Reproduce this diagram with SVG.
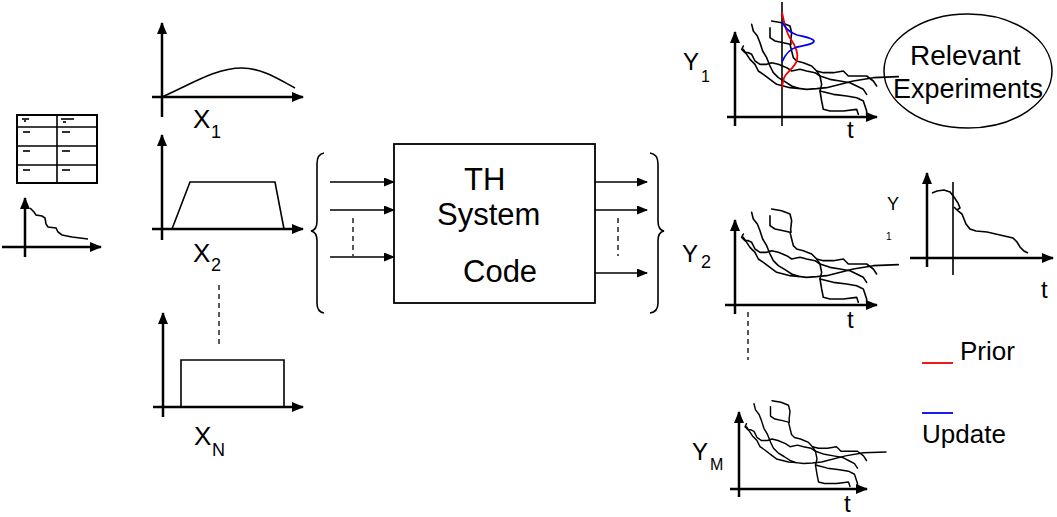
<svg xmlns="http://www.w3.org/2000/svg" xmlns:xlink="http://www.w3.org/1999/xlink" width="1057" height="517" viewBox="0 0 1057 517">
<style>
text{font-family:"Liberation Sans",Arial,sans-serif;fill:#000}
.ax{stroke:#000;stroke-width:2.5;fill:none}
.ln{stroke:#000;stroke-width:1.6;fill:none}
.cv{stroke:#000;stroke-width:4.8;fill:none;stroke-linejoin:round;stroke-linecap:round}
.dash{stroke:#000;stroke-width:1.3;stroke-dasharray:5,4;fill:none}
.big{font-size:31px}
.lab{font-size:26px}
.sub{font-size:18px}
.tt{font-size:24px}
.smudge{fill:#333}
</style>
<defs>
<marker id="ah" markerUnits="userSpaceOnUse" markerWidth="11" markerHeight="9" refX="10" refY="4.5" orient="auto"><path d="M0,0 L11,4.5 L0,9 z" fill="#000"/></marker>
<marker id="aa" markerUnits="userSpaceOnUse" markerWidth="12" markerHeight="10" refX="11" refY="5" orient="auto"><path d="M0,0 L12,5 L0,10 z" fill="#000"/></marker>
<g id="bundle">
<g transform="scale(0.3333)">
<path class="cv" d="M50,-278 L55,-258 L67,-243 L75,-223 L83,-198 L95,-178 L105,-153 L115,-133 L130,-118 L150,-106 L170,-93 L190,-86"/>
<path class="cv" d="M25,-203 L35,-188 L45,-173 L60,-158 L70,-138 L85,-128 L105,-113 L125,-98 L145,-93 L165,-88 L190,-86 L215,-83 L245,-85 L275,-88 L355,-108 L415,-118 L490,-121"/>
<path class="cv" d="M110,-288 L140,-283 L165,-273 L170,-253 L167,-228 L168,-218"/>
<path class="cv" d="M105,-268 L105,-238 L120,-228 L145,-223 L165,-218 L170,-198 L175,-178 L185,-168 L205,-163 L230,-153 L245,-138 L265,-133 L295,-133 L325,-138 L340,-123 L365,-123 L395,-123 L415,-108 L425,-93"/>
<path class="cv" d="M245,-138 L255,-123 L260,-98 L255,-78 L260,-48 L265,-23 L285,-18 L325,-18 L365,-23 L370,-8"/>
<path class="cv" d="M25,-213 L20,-203 L30,-193 L40,-193 L50,-188 L60,-168 L75,-158 L95,-158 L110,-163 L130,-158 L155,-148 L170,-138 L195,-143 L215,-138 L240,-133 L255,-123 L285,-113 L315,-108 L345,-103 L365,-93 L385,-83 L395,-68"/>
<path class="cv" d="M255,-78 L295,-68 L335,-63 L365,-58 L385,-48 L395,-18 L395,-6"/>
</g>
</g>
</defs>

<g id="input-table">
<rect x="17" y="115" width="80" height="68" fill="#fff" stroke="#000" stroke-width="2"/>
<line class="ln" x1="57" y1="115" x2="57" y2="183" stroke-width="2"/>
<line class="ln" x1="17" y1="127" x2="97" y2="127"/>
<line class="ln" x1="17" y1="146" x2="97" y2="146"/>
<line class="ln" x1="17" y1="165" x2="97" y2="165"/>
<rect class="smudge" x="22" y="118" width="7" height="2"/><rect class="smudge" x="24" y="120" width="2" height="2"/>
<rect class="smudge" x="61" y="118" width="13" height="2"/><rect class="smudge" x="63" y="121" width="3" height="2"/>
<rect class="smudge" x="23" y="131" width="7" height="2"/><rect class="smudge" x="62" y="131" width="8" height="2"/>
<rect class="smudge" x="23" y="150" width="7" height="2"/><rect class="smudge" x="62" y="150" width="8" height="2"/>
<rect class="smudge" x="23" y="169" width="7" height="2"/><rect class="smudge" x="62" y="169" width="8" height="2"/>
</g>

<g id="input-curve">
<line class="ax" x1="2" y1="247" x2="101" y2="247" marker-end="url(#aa)"/>
<line class="ax" x1="25" y1="257" x2="25" y2="198" marker-end="url(#aa)"/>
<path class="ln" d="M30,208 L34,212 L36,215 L42,216 L45,218 L46,224 L48,227 L56,228 L58,232 L62,235 L72,237 L80,238 L88,239"/>
</g>

<g id="x1">
<line class="ax" x1="152" y1="97" x2="303" y2="97" marker-end="url(#aa)"/>
<line class="ax" x1="162" y1="117" x2="162" y2="23" marker-end="url(#aa)"/>
<path class="ln" d="M162,97 C190,85 215,68 242,68 C262,68 280,80 295,88"/>
<text class="lab" x="193" y="128">X</text><text class="sub" x="211" y="138">1</text>
</g>

<g id="x2">
<line class="ax" x1="152" y1="229" x2="303" y2="229" marker-end="url(#aa)"/>
<line class="ax" x1="162" y1="240" x2="162" y2="135" marker-end="url(#aa)"/>
<path class="ln" d="M172,229 L190,182 L275,182 L284,229"/>
<text class="lab" x="193" y="262">X</text><text class="sub" x="211" y="271">2</text>
</g>

<g id="xn">
<line class="dash" x1="219" y1="285" x2="219" y2="347"/>
<line class="ax" x1="153" y1="407" x2="303" y2="407" marker-end="url(#aa)"/>
<line class="ax" x1="163" y1="417" x2="163" y2="313" marker-end="url(#aa)"/>
<path class="ln" d="M181,407 L181,360 L284,360 L284,407"/>
<text class="lab" x="194" y="445">X</text><text class="sub" x="212" y="456">N</text>
</g>

<g id="th-code">
<rect x="394" y="144" width="201" height="159" fill="#fff" stroke="#000" stroke-width="1.8"/>
<text class="big" x="464" y="190">TH</text>
<text class="big" x="437" y="225">System</text>
<text class="big" x="463" y="282">Code</text>
</g>

<g id="connectors">
<path class="ln" d="M324,153 Q317,154 317,164 L317,221 Q317,230 311,231 Q317,232 317,241 L317,303 Q317,312 324,313" stroke-width="1.3"/>
<path class="ln" d="M650,153 Q658,154 658,164 L658,221 Q658,230 664,231 Q658,232 658,241 L658,303 Q658,312 650,313" stroke-width="1.3"/>
<line class="ln" x1="330" y1="182" x2="394" y2="182" marker-end="url(#ah)"/>
<line class="ln" x1="330" y1="210" x2="394" y2="210" marker-end="url(#ah)"/>
<line class="ln" x1="330" y1="257" x2="394" y2="257" marker-end="url(#ah)"/>
<line class="dash" x1="353" y1="218" x2="353" y2="256"/>
<line class="ln" x1="595" y1="182" x2="647" y2="182" marker-end="url(#ah)"/>
<line class="ln" x1="595" y1="210" x2="647" y2="210" marker-end="url(#ah)"/>
<line class="ln" x1="595" y1="273" x2="647" y2="273" marker-end="url(#ah)"/>
<line class="dash" x1="618" y1="218" x2="618" y2="256"/>
<line class="dash" x1="748" y1="312" x2="748" y2="360"/>
</g>

<g id="y1">
<line class="ax" x1="727" y1="117" x2="877" y2="117" marker-end="url(#aa)"/>
<line class="ax" x1="735" y1="126" x2="735" y2="32" marker-end="url(#aa)"/>
<use xlink:href="#bundle" href="#bundle" transform="translate(735,117)"/>
<line class="ln" x1="782" y1="2" x2="782" y2="126"/>
<path d="M782,12 C784,22 785,30 790,38 C795,45 799,52 797,60 C795,68 786,72 784,78 C783,82 782,85 782,88" fill="none" stroke="#e00" stroke-width="1.8"/>
<path d="M782,22 C785,27 788,32 797,35 C805,37 813,38 814,41 C814,44 806,45 797,47 C789,49 785,55 782,62" fill="none" stroke="#00e" stroke-width="1.8"/>
<text class="tt" x="683" y="70">Y</text><text x="701" y="82" style="font-size:16px">1</text>
<text class="tt" x="847" y="138">t</text>
</g>

<g id="relevant-experiments">
<ellipse cx="968" cy="71" rx="84" ry="57" fill="none" stroke="#000" stroke-width="1.5"/>
<text x="910" y="65" style="font-size:28px">Relevant</text>
<text x="893" y="98" style="font-size:27px">Experiments</text>
</g>

<g id="y2">
<line class="ax" x1="725" y1="305" x2="877" y2="305" marker-end="url(#aa)"/>
<line class="ax" x1="735" y1="314" x2="735" y2="220" marker-end="url(#aa)"/>
<use xlink:href="#bundle" href="#bundle" transform="translate(735,305)"/>
<text class="tt" x="682" y="262">Y</text><text class="sub" x="701" y="268">2</text>
<text class="tt" x="847" y="328">t</text>
</g>

<g id="ym">
<line class="ax" x1="730" y1="489" x2="867" y2="489" marker-end="url(#aa)"/>
<line class="ax" x1="739" y1="497" x2="739" y2="412" marker-end="url(#aa)"/>
<use xlink:href="#bundle" href="#bundle" transform="translate(739,489) scale(0.9,0.92)"/>
<text class="tt" x="692" y="460">Y</text><text x="710" y="470" style="font-size:16px">M</text>
<text class="tt" x="844" y="512">t</text>
</g>

<g id="y1-result">
<line class="ax" x1="910" y1="258" x2="1053" y2="258" marker-end="url(#aa)"/>
<line class="ax" x1="927" y1="267" x2="927" y2="173" marker-end="url(#aa)"/>
<line class="ln" x1="953" y1="182" x2="953" y2="275"/>
<path class="ln" d="M932,193 L937,191 L944,190 L950,192 L954,197 L958,203 L960,208 L957,210 L954,207 L958,211 L962,214 L966,224 L970,229 L976,231 L987,232 L1000,235 L1013,238 L1017,242 L1020,247 L1024,251 L1028,253"/>
<text x="887" y="210" style="font-size:18px">Y</text>
<text x="886" y="240" style="font-size:10px">1</text>
<text class="tt" x="1041" y="298">t</text>
</g>

<g id="legend">
<line x1="922" y1="363" x2="953" y2="363" stroke="#e00" stroke-width="1.8"/>
<text class="lab" x="960" y="360">Prior</text>
<line x1="922" y1="413" x2="953" y2="413" stroke="#00e" stroke-width="1.8"/>
<text class="lab" x="922" y="443">Update</text>
</g>
</svg>
